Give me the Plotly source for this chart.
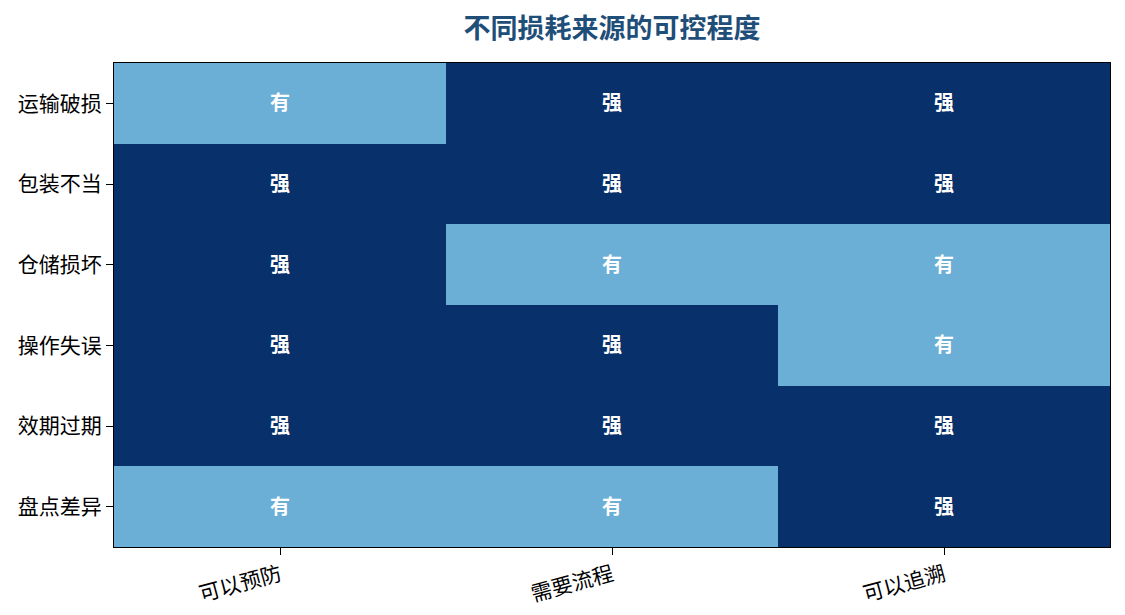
import plotly.graph_objects as go

# categories
sources = ["运输破损", "包装不当", "仓储损坏", "操作失误", "效期过期", "盘点差异"]
aspects = ["可以预防", "需要流程", "可以追溯"]

# control level per source (rows) and aspect (cols)
levels = [
    ["有", "强", "强"],
    ["强", "强", "强"],
    ["强", "有", "有"],
    ["强", "强", "有"],
    ["强", "强", "强"],
    ["有", "有", "强"],
]
level_score = {"有": 0, "强": 1}

z = [[level_score[v] for v in row] for row in levels]

dark = "#08306b"
light = "#6baed6"

fig = go.Figure(go.Heatmap(
    z=z,
    x=aspects,
    y=sources,
    text=levels,
    texttemplate="<b>%{text}</b>",
    textfont=dict(color="white", size=20, family="Noto Sans CJK SC"),
    colorscale=[[0, light], [0.5, light], [0.5, dark], [1, dark]],
    zmin=0, zmax=1,
    showscale=False,
    xgap=0, ygap=0,
    hoverinfo="skip",
))

# page is drawn with a small offset, so the figure is a bit smaller than the window
fig.update_layout(
    width=1110, height=600,
    margin=dict(l=106, r=8, t=55, b=61),
    paper_bgcolor="white",
    plot_bgcolor="white",
    font=dict(family="Noto Sans CJK SC", size=21, color="black"),
    title=dict(
        text="<b>不同损耗来源的可控程度</b>",
        xref="paper", x=0.5, xanchor="center",
        yref="container", y=1 - 21 / 600, yanchor="middle",
        font=dict(size=27, color="#1f4e79", family="Noto Sans CJK SC"),
    ),
)
fig.update_xaxes(
    tickangle=-15,
    automargin=False,
    ticks="outside", ticklen=7, tickcolor="black",
    showline=True, linecolor="black", linewidth=1.2, mirror=True,
    showgrid=False,
    tickfont=dict(size=21),
)
fig.update_yaxes(
    autorange="reversed",
    automargin=False,
    ticks="outside", ticklen=7, tickcolor="black",
    showline=True, linecolor="black", linewidth=1.2, mirror=True,
    showgrid=False,
    tickfont=dict(size=21),
)

fig.write_html("out.html")
